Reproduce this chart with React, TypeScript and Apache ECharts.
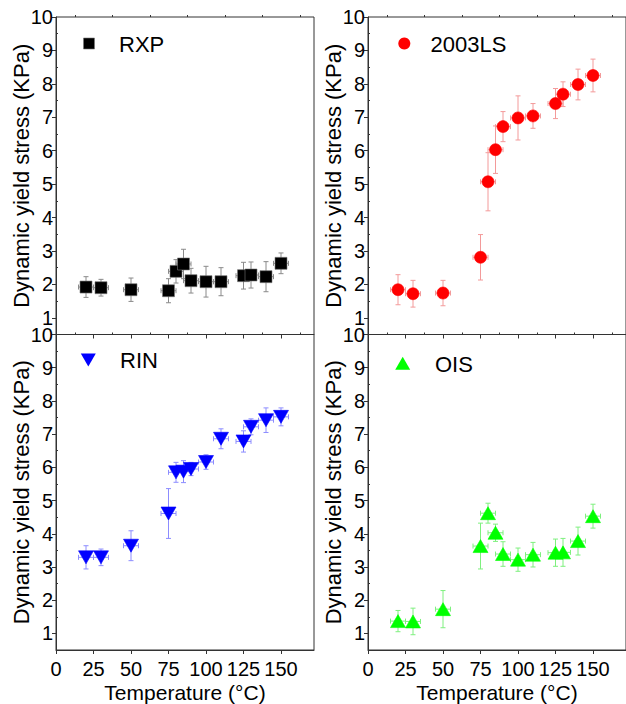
import React, { useEffect, useRef } from "react";
import * as echarts from "echarts";

// Temperatures (°C)
const temps = [20, 30, 50, 75, 80, 85, 90, 100, 110, 125, 130, 140, 150];
const tempErr = 5;

// Dynamic yield stress (KPa) and errors
const rxp = [1.92, 1.9, 1.84, 1.81, 2.39, 2.61, 2.11, 2.08, 2.08, 2.26, 2.28, 2.23, 2.63];
const rxpErr = [0.31, 0.25, 0.35, 0.36, 0.35, 0.44, 0.37, 0.46, 0.42, 0.4, 0.39, 0.45, 0.31];
const ls2003 = [1.84, 1.72, 1.74, 2.81, 5.07, 6.03, 6.72, 6.98, 7.04, 7.41, 7.69, 7.98, 8.25];
const ls2003Err = [0.45, 0.4, 0.38, 0.68, 0.87, 0.71, 0.45, 0.66, 0.37, 0.45, 0.37, 0.46, 0.49];
const rin = [3.29, 3.29, 3.64, 4.61, 5.85, 5.87, 5.95, 6.16, 6.86, 6.78, 7.22, 7.42, 7.52];
const rinErr = [0.35, 0.25, 0.45, 0.75, 0.3, 0.33, 0.2, 0.22, 0.3, 0.32, 0.24, 0.37, 0.27];
const ois = [1.37, 1.36, 1.73, 3.63, 4.62, 4.03, 3.39, 3.22, 3.37, 3.43, 3.44, 3.78, 4.53];
const oisErr = [0.32, 0.4, 0.56, 0.69, 0.3, 0.26, 0.37, 0.35, 0.37, 0.41, 0.42, 0.42, 0.36];

const seriesNames = ["RXP", "2003LS", "RIN", "OIS"];

const xMajor = [0, 25, 50, 75, 100, 125, 150];
const xMinor = [12.5, 37.5, 62.5, 87.5, 112.5, 137.5, 162.5];
const yMajor = [1, 2, 3, 4, 5, 6, 7, 8, 9, 10];
const yMinor = [1.5, 2.5, 3.5, 4.5, 5.5, 6.5, 7.5, 8.5, 9.5];

const FONT = "'Liberation Sans', Arial, sans-serif";
const AXIS_COLOR = "#333";
const downTri = "path://M0,0L10,0L5,8.66Z";
const upTri = "path://M5,0L10,8.66L0,8.66Z";

const grids = [
  { left: 56, top: 17, width: 258, height: 317.5 },
  { left: 368, top: 17, width: 261, height: 317.5 },
  { left: 56, top: 334.5, width: 258, height: 317 },
  { left: 368, top: 334.5, width: 261, height: 317 },
];

function buildAxes() {
  const xAxis: any[] = [];
  const yAxis: any[] = [];
  grids.forEach((_, g) => {
    const bottomRow = g >= 2;
    xAxis.push({
      gridIndex: g,
      type: "value",
      min: 0,
      max: 172,
      axisLine: { show: true, lineStyle: { color: AXIS_COLOR, width: 1 } },
      axisTick: { show: true, customValues: xMajor, length: 4, lineStyle: { color: AXIS_COLOR } },
      axisLabel: {
        show: bottomRow,
        customValues: xMajor,
        fontSize: 20,
        color: "#000",
        fontFamily: FONT,
        margin: 9,
      },
      splitLine: { show: false },
      name: bottomRow ? "Temperature (°C)" : "",
      nameLocation: "middle",
      nameGap: 32,
      nameMoveOverlap: false,
      nameTextStyle: { fontSize: 21, color: "#000", fontFamily: FONT },
    });
    xAxis.push({
      gridIndex: g,
      type: "value",
      min: 0,
      max: 172,
      axisLine: { show: false },
      axisTick: { show: true, customValues: xMinor, length: 2, lineStyle: { color: AXIS_COLOR } },
      axisLabel: { show: false },
      splitLine: { show: false },
    });
    yAxis.push({
      gridIndex: g,
      type: "value",
      min: 0.5,
      max: 10,
      axisLine: { show: true, lineStyle: { color: AXIS_COLOR, width: 1 } },
      axisTick: { show: true, customValues: yMajor, length: 4, lineStyle: { color: AXIS_COLOR } },
      axisLabel: {
        show: true,
        customValues: yMajor,
        fontSize: 20,
        color: "#000",
        fontFamily: FONT,
        margin: 3,
      },
      splitLine: { show: false },
      name: "Dynamic yield stress (KPa)",
      nameLocation: "middle",
      nameGap: 24,
      nameMoveOverlap: false,
      nameTextStyle: { fontSize: 22, color: "#000", fontFamily: FONT },
    });
    yAxis.push({
      gridIndex: g,
      type: "value",
      min: 0.5,
      max: 10,
      axisLine: { show: false },
      axisTick: { show: true, customValues: yMinor, length: 2, lineStyle: { color: AXIS_COLOR } },
      axisLabel: { show: false },
      splitLine: { show: false },
    });
  });
  return { xAxis, yAxis };
}

function errorSeries(g: number, vals: number[], errs: number[], color: string) {
  return {
    type: "custom",
    xAxisIndex: 2 * g,
    yAxisIndex: 2 * g,
    silent: true,
    z: 1,
    data: temps.map((t, i) => [t, vals[i], errs[i]]),
    renderItem: (_params: any, api: any) => {
      const x = api.value(0);
      const y = api.value(1);
      const e = api.value(2);
      const top = api.coord([x, y + e]);
      const bot = api.coord([x, y - e]);
      const lft = api.coord([x - tempErr, y]);
      const rgt = api.coord([x + tempErr, y]);
      const c = 2.5;
      const st = { stroke: color, lineWidth: 1 };
      const ln = (x1: number, y1: number, x2: number, y2: number) => ({
        type: "line",
        shape: { x1, y1, x2, y2 },
        style: st,
      });
      return {
        type: "group",
        children: [
          ln(top[0], top[1], bot[0], bot[1]),
          ln(top[0] - c, top[1], top[0] + c, top[1]),
          ln(bot[0] - c, bot[1], bot[0] + c, bot[1]),
          ln(lft[0], lft[1], rgt[0], rgt[1]),
          ln(lft[0], lft[1] - c, lft[0], lft[1] + c),
          ln(rgt[0], rgt[1] - c, rgt[0], rgt[1] + c),
        ],
      };
    },
  };
}

function scatterSeries(
  g: number,
  name: string,
  vals: number[],
  symbol: string,
  size: any,
  color: string,
  border: string
) {
  return {
    type: "scatter",
    name,
    xAxisIndex: 2 * g,
    yAxisIndex: 2 * g,
    z: 3,
    symbol,
    symbolSize: size,
    itemStyle: { color, opacity: 1, borderColor: border, borderWidth: 0.6 },
    data: temps.map((t, i) => [t, vals[i]]),
  };
}

const legendText = (text: string, x: number, y: number) => ({
  type: "text",
  x,
  y,
  style: {
    text,
    fontSize: 22,
    fontFamily: FONT,
    fill: "#000",
    textAlign: "left",
    textVerticalAlign: "middle",
  },
});

export default function App() {
  const ref = useRef<HTMLDivElement>(null);
  useEffect(() => {
    if (!ref.current) return;
    const chart = echarts.init(ref.current, undefined, { renderer: "svg" });
    const { xAxis, yAxis } = buildAxes();
    chart.setOption({
      animation: false,
      backgroundColor: "#fff",
      grid: grids.map((g) => ({ ...g, show: true, borderColor: AXIS_COLOR, borderWidth: 1, backgroundColor: "transparent" })),
      xAxis,
      yAxis,
      graphic: [
        { type: "rect", shape: { x: 83.5, y: 38, width: 11, height: 11 }, style: { fill: "#000", stroke: "#777", lineWidth: 0.6 } },
        legendText(seriesNames[0], 119, 44),
        { type: "circle", shape: { cx: 404.3, cy: 43.5, r: 6 }, style: { fill: "#ff0000" } },
        legendText(seriesNames[1], 430.5, 44),
        { type: "polygon", shape: { points: [[80.8, 353.5], [95.8, 353.5], [88.3, 366.5]] }, style: { fill: "#0000ff" } },
        legendText(seriesNames[2], 120, 360.5),
        { type: "polygon", shape: { points: [[402.7, 356.8], [410.2, 369.8], [395.2, 369.8]] }, style: { fill: "#00ff00" } },
        legendText(seriesNames[3], 435, 364),
      ],
      series: [
        errorSeries(0, rxp, rxpErr, "#8a8a8a"),
        scatterSeries(0, seriesNames[0], rxp, "rect", 12, "#000000", "#777777"),
        errorSeries(1, ls2003, ls2003Err, "#f39a9a"),
        scatterSeries(1, seriesNames[1], ls2003, "circle", 12, "#ff0000", "#ff0000"),
        errorSeries(2, rin, rinErr, "#8c8cff"),
        scatterSeries(2, seriesNames[2], rin, downTri, [15, 13], "#0000ff", "#0000ff"),
        errorSeries(3, ois, oisErr, "#7ef07e"),
        scatterSeries(3, seriesNames[3], ois, upTri, [15, 13], "#00ff00", "#00ff00"),
      ],
    });
    return () => chart.dispose();
  }, []);
  return (
    <div
      ref={ref}
      style={{ position: "absolute", left: 0, top: 0, width: 626, height: 704, background: "#fff" }}
    />
  );
}
